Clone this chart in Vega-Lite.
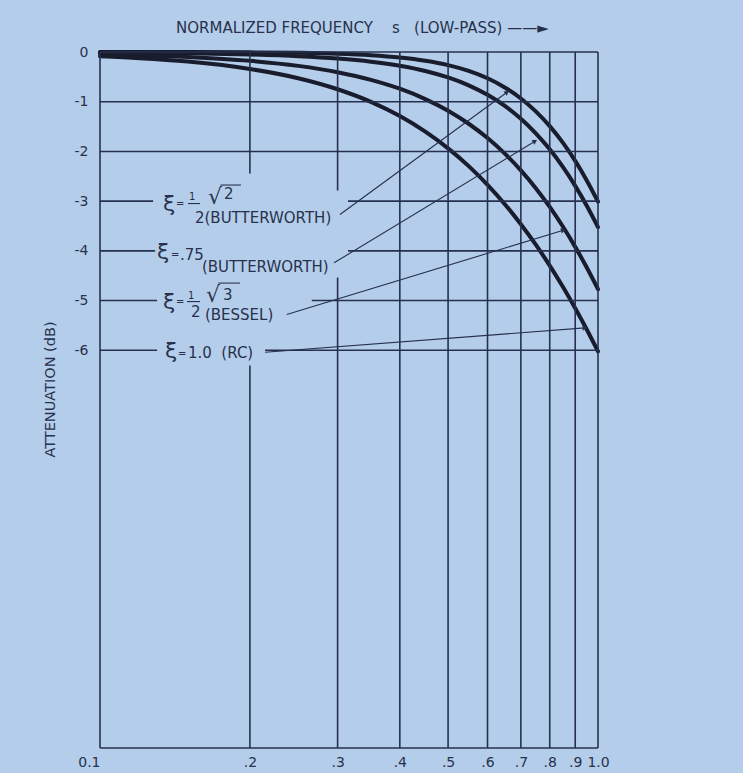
{
  "$schema": "https://vega.github.io/schema/vega-lite/v6.json",
  "width": 498,
  "height": 696,
  "autosize": "none",
  "padding": {"left": 100, "top": 52, "right": 145, "bottom": 25},
  "background": "#b4cdea",
  "config": {
    "view": {"stroke": null},
    "font": "DejaVu Sans",
    "text": {"font": "DejaVu Sans", "color": "#28314c"}
  },
  "title": {
    "text": "NORMALIZED FREQUENCY\u00a0\u00a0\u00a0\u00a0s\u00a0\u00a0\u00a0(LOW-PASS)\u00a0——►",
    "anchor": "start",
    "frame": "group",
    "dx": 76,
    "dy": 24,
    "offset": 20,
    "baseline": "alphabetic",
    "fontSize": 15,
    "fontWeight": "normal",
    "color": "#28314c",
    "font": "DejaVu Sans"
  },
  "datasets": {
    "curve": [
      {"c": "B", "s": 0.1, "dB": 0.0}, {"c": "B", "s": 0.12, "dB": -0.001}, {"c": "B", "s": 0.15, "dB": -0.002}, {"c": "B", "s": 0.2, "dB": -0.007}, {"c": "B", "s": 0.25, "dB": -0.017}, {"c": "B", "s": 0.3, "dB": -0.035}, {"c": "B", "s": 0.35, "dB": -0.065}, {"c": "B", "s": 0.4, "dB": -0.11}, {"c": "B", "s": 0.45, "dB": -0.175}, {"c": "B", "s": 0.5, "dB": -0.263}, {"c": "B", "s": 0.55, "dB": -0.38}, {"c": "B", "s": 0.6, "dB": -0.529}, {"c": "B", "s": 0.65, "dB": -0.713}, {"c": "B", "s": 0.7, "dB": -0.935}, {"c": "B", "s": 0.75, "dB": -1.194}, {"c": "B", "s": 0.8, "dB": -1.491}, {"c": "B", "s": 0.85, "dB": -1.824}, {"c": "B", "s": 0.9, "dB": -2.191}, {"c": "B", "s": 0.95, "dB": -2.588}, {"c": "B", "s": 1.0, "dB": -3.01},
      {"c": "B75", "s": 0.1, "dB": -0.011}, {"c": "B75", "s": 0.12, "dB": -0.017}, {"c": "B75", "s": 0.15, "dB": -0.027}, {"c": "B75", "s": 0.2, "dB": -0.05}, {"c": "B75", "s": 0.25, "dB": -0.084}, {"c": "B75", "s": 0.3, "dB": -0.131}, {"c": "B75", "s": 0.35, "dB": -0.194}, {"c": "B75", "s": 0.4, "dB": -0.276}, {"c": "B75", "s": 0.45, "dB": -0.381}, {"c": "B75", "s": 0.5, "dB": -0.512}, {"c": "B75", "s": 0.55, "dB": -0.671}, {"c": "B75", "s": 0.6, "dB": -0.862}, {"c": "B75", "s": 0.65, "dB": -1.086}, {"c": "B75", "s": 0.7, "dB": -1.344}, {"c": "B75", "s": 0.75, "dB": -1.635}, {"c": "B75", "s": 0.8, "dB": -1.958}, {"c": "B75", "s": 0.85, "dB": -2.311}, {"c": "B75", "s": 0.9, "dB": -2.692}, {"c": "B75", "s": 0.95, "dB": -3.097}, {"c": "B75", "s": 1.0, "dB": -3.522},
      {"c": "Bes", "s": 0.1, "dB": -0.044}, {"c": "Bes", "s": 0.12, "dB": -0.063}, {"c": "Bes", "s": 0.15, "dB": -0.099}, {"c": "Bes", "s": 0.2, "dB": -0.177}, {"c": "Bes", "s": 0.25, "dB": -0.279}, {"c": "Bes", "s": 0.3, "dB": -0.406}, {"c": "Bes", "s": 0.35, "dB": -0.56}, {"c": "Bes", "s": 0.4, "dB": -0.739}, {"c": "Bes", "s": 0.45, "dB": -0.947}, {"c": "Bes", "s": 0.5, "dB": -1.181}, {"c": "Bes", "s": 0.55, "dB": -1.443}, {"c": "Bes", "s": 0.6, "dB": -1.731}, {"c": "Bes", "s": 0.65, "dB": -2.044}, {"c": "Bes", "s": 0.7, "dB": -2.381}, {"c": "Bes", "s": 0.75, "dB": -2.739}, {"c": "Bes", "s": 0.8, "dB": -3.117}, {"c": "Bes", "s": 0.85, "dB": -3.511}, {"c": "Bes", "s": 0.9, "dB": -3.92}, {"c": "Bes", "s": 0.95, "dB": -4.341}, {"c": "Bes", "s": 1.0, "dB": -4.771},
      {"c": "RC", "s": 0.1, "dB": -0.086}, {"c": "RC", "s": 0.12, "dB": -0.124}, {"c": "RC", "s": 0.15, "dB": -0.193}, {"c": "RC", "s": 0.2, "dB": -0.341}, {"c": "RC", "s": 0.25, "dB": -0.527}, {"c": "RC", "s": 0.3, "dB": -0.749}, {"c": "RC", "s": 0.35, "dB": -1.004}, {"c": "RC", "s": 0.4, "dB": -1.289}, {"c": "RC", "s": 0.45, "dB": -1.602}, {"c": "RC", "s": 0.5, "dB": -1.938}, {"c": "RC", "s": 0.55, "dB": -2.296}, {"c": "RC", "s": 0.6, "dB": -2.671}, {"c": "RC", "s": 0.65, "dB": -3.061}, {"c": "RC", "s": 0.7, "dB": -3.464}, {"c": "RC", "s": 0.75, "dB": -3.876}, {"c": "RC", "s": 0.8, "dB": -4.297}, {"c": "RC", "s": 0.85, "dB": -4.723}, {"c": "RC", "s": 0.9, "dB": -5.154}, {"c": "RC", "s": 0.95, "dB": -5.586}, {"c": "RC", "s": 1.0, "dB": -6.021}
    ],
    "vgrid": [
      {"s": 0.1, "dB": 0, "dB2": -14},
      {"s": 0.2, "dB": 0, "dB2": -2.445}, {"s": 0.2, "dB": -6.308, "dB2": -14},
      {"s": 0.3, "dB": 0, "dB2": -2.787}, {"s": 0.3, "dB": -4.537, "dB2": -14},
      {"s": 0.4, "dB": 0, "dB2": -14}, {"s": 0.5, "dB": 0, "dB2": -14}, {"s": 0.6, "dB": 0, "dB2": -14},
      {"s": 0.7, "dB": 0, "dB2": -14}, {"s": 0.8, "dB": 0, "dB2": -14}, {"s": 0.9, "dB": 0, "dB2": -14},
      {"s": 1.0, "dB": 0, "dB2": -14}
    ],
    "hgrid": [
      {"dB": 0, "s": 0.1, "s2": 1}, {"dB": -1, "s": 0.1, "s2": 1}, {"dB": -2, "s": 0.1, "s2": 1},
      {"dB": -3, "s": 0.1, "s2": 0.1278}, {"dB": -3, "s": 0.3148, "s2": 1},
      {"dB": -4, "s": 0.1, "s2": 0.129}, {"dB": -4, "s": 0.3148, "s2": 1},
      {"dB": -5, "s": 0.1, "s2": 0.1302}, {"dB": -5, "s": 0.2662, "s2": 1},
      {"dB": -6, "s": 0.1, "s2": 0.1302}, {"dB": -6, "s": 0.2145, "s2": 1},
      {"dB": -14, "s": 0.1, "s2": 1}
    ],
    "lead": [
      {"id": "a1", "s": 0.3033, "dB": -3.27, "s2": 0.6566, "dB2": -0.809},
      {"id": "a2", "s": 0.2951, "dB": -4.241, "s2": 0.7474, "dB2": -1.795},
      {"id": "a3", "s": 0.2371, "dB": -5.282, "s2": 0.8518, "dB2": -3.585},
      {"id": "a4", "s": 0.2145, "dB": -6.04, "s2": 0.9417, "dB2": -5.549}
    ],
    "bars": [
      {"s": 0.15019, "s2": 0.15877, "dB": -3.048},
      {"s": 0.1495, "s2": 0.15877, "dB": -5.02},
      {"s": 0.17457, "s2": 0.19187, "dB": -2.676},
      {"s": 0.17296, "s2": 0.19104, "dB": -4.648}
    ],
    "xi": [
      {"t": "ξ", "s": 0.1338, "dB": -3.189},
      {"t": "ξ", "s": 0.13015, "dB": -4.155},
      {"t": "ξ", "s": 0.1338, "dB": -5.165},
      {"t": "ξ", "s": 0.13504, "dB": -6.147},
      {"t": "√", "s": 0.16474, "dB": -3.048},
      {"t": "√", "s": 0.16322, "dB": -5.02}
    ],
    "tiny": [
      {"t": "=", "s": 0.14208, "dB": -3.109},
      {"t": "1", "s": 0.15088, "dB": -2.968},
      {"t": "=", "s": 0.13884, "dB": -4.135},
      {"t": "=", "s": 0.14208, "dB": -5.085},
      {"t": "1", "s": 0.15019, "dB": -4.965},
      {"t": "=", "s": 0.1434, "dB": -6.127}
    ],
    "body": [
      {"t": "2", "s": 0.17742, "dB": -2.948},
      {"t": "2(BUTTERWORTH)", "s": 0.15512, "dB": -3.431},
      {"t": ".75", "s": 0.14473, "dB": -4.175},
      {"t": "(BUTTERWORTH)", "s": 0.16023, "dB": -4.416},
      {"t": "3", "s": 0.1766, "dB": -4.984},
      {"t": "2", "s": 0.15228, "dB": -5.326},
      {"t": "(BESSEL)", "s": 0.16246, "dB": -5.382},
      {"t": "1.0\u00a0\u00a0(RC)", "s": 0.15019, "dB": -6.147}
    ]
  },
  "layer": [
    {
      "data": {"name": "curve"},
      "mark": {"type": "line", "strokeWidth": 4, "color": "#181c2c", "interpolate": "monotone", "strokeCap": "round"},
      "encoding": {
        "x": {
          "field": "s", "type": "quantitative",
          "scale": {"type": "log", "domain": [0.1, 1], "nice": false},
          "axis": {
            "title": null, "domain": false, "ticks": false, "grid": false,
            "values": [0.1, 0.2, 0.3, 0.4, 0.5, 0.6, 0.7, 0.8, 0.9, 1],
            "labelExpr": "datum.value >= 0.99 ? '1.0' : datum.value < 0.15 ? '0.1' : '.' + format(datum.value * 10, '.0f')",
            "labelAlign": {"condition": {"test": "datum.value < 0.15", "value": "right"}, "value": "center"},
            "labelFontSize": 14, "labelColor": "#28314c", "labelPadding": 7, "labelFont": "DejaVu Sans",
            "labelOverlap": false, "labelFlush": false
          }
        },
        "y": {
          "field": "dB", "type": "quantitative",
          "scale": {"domain": [-14, 0], "nice": false, "zero": false},
          "axis": {
            "title": "ATTENUATION (dB)", "domain": false, "ticks": false, "grid": false,
            "values": [0, -1, -2, -3, -4, -5, -6],
            "labelExpr": "datum.value == 0 ? '0' : '-' + format(-datum.value, 'd')",
            "labelFontSize": 14, "labelColor": "#28314c", "labelPadding": 12, "labelFont": "DejaVu Sans",
            "titleFontSize": 14.5, "titleFontWeight": "normal", "titleColor": "#28314c", "titleFont": "DejaVu Sans",
            "titlePadding": 17, "titleY": 337
          }
        },
        "detail": {"field": "c", "type": "nominal"}
      }
    },
    {
      "data": {"name": "vgrid"},
      "mark": {"type": "rule", "strokeWidth": 1.6, "color": "#26304e"},
      "encoding": {
        "x": {"field": "s", "type": "quantitative"},
        "y": {"field": "dB", "type": "quantitative"},
        "y2": {"field": "dB2"}
      }
    },
    {
      "data": {"name": "hgrid"},
      "mark": {"type": "rule", "strokeWidth": 1.6, "color": "#26304e"},
      "encoding": {
        "x": {"field": "s", "type": "quantitative"},
        "x2": {"field": "s2"},
        "y": {"field": "dB", "type": "quantitative"}
      }
    },
    {
      "data": {"name": "lead"},
      "mark": {"type": "rule", "strokeWidth": 1.1, "color": "#26304e"},
      "encoding": {
        "x": {"field": "s", "type": "quantitative"},
        "x2": {"field": "s2"},
        "y": {"field": "dB", "type": "quantitative"},
        "y2": {"field": "dB2"}
      }
    },
    {
      "data": {"name": "lead"},
      "transform": [{"filter": "datum.id == 'a1'"}],
      "mark": {"type": "point", "shape": "triangle-right", "filled": true, "size": 30, "angle": 324, "color": "#26304e", "opacity": 1},
      "encoding": {
        "x": {"field": "s2", "type": "quantitative"},
        "y": {"field": "dB2", "type": "quantitative"}
      }
    },
    {
      "data": {"name": "lead"},
      "transform": [{"filter": "datum.id == 'a2'"}],
      "mark": {"type": "point", "shape": "triangle-right", "filled": true, "size": 30, "angle": 329, "color": "#26304e", "opacity": 1},
      "encoding": {
        "x": {"field": "s2", "type": "quantitative"},
        "y": {"field": "dB2", "type": "quantitative"}
      }
    },
    {
      "data": {"name": "lead"},
      "transform": [{"filter": "datum.id == 'a3'"}],
      "mark": {"type": "point", "shape": "triangle-right", "filled": true, "size": 30, "angle": 343, "color": "#26304e", "opacity": 1},
      "encoding": {
        "x": {"field": "s2", "type": "quantitative"},
        "y": {"field": "dB2", "type": "quantitative"}
      }
    },
    {
      "data": {"name": "lead"},
      "transform": [{"filter": "datum.id == 'a4'"}],
      "mark": {"type": "point", "shape": "triangle-right", "filled": true, "size": 30, "angle": 356, "color": "#26304e", "opacity": 1},
      "encoding": {
        "x": {"field": "s2", "type": "quantitative"},
        "y": {"field": "dB2", "type": "quantitative"}
      }
    },
    {
      "data": {"name": "bars"},
      "mark": {"type": "rule", "strokeWidth": 1.1, "color": "#28314c"},
      "encoding": {
        "x": {"field": "s", "type": "quantitative"},
        "x2": {"field": "s2"},
        "y": {"field": "dB", "type": "quantitative"}
      }
    },
    {
      "data": {"name": "xi"},
      "mark": {"type": "text", "fontSize": 22, "align": "left", "baseline": "alphabetic", "color": "#28314c"},
      "encoding": {
        "x": {"field": "s", "type": "quantitative"},
        "y": {"field": "dB", "type": "quantitative"},
        "text": {"field": "t"}
      }
    },
    {
      "data": {"name": "tiny"},
      "mark": {"type": "text", "fontSize": 10, "align": "left", "baseline": "alphabetic", "color": "#28314c"},
      "encoding": {
        "x": {"field": "s", "type": "quantitative"},
        "y": {"field": "dB", "type": "quantitative"},
        "text": {"field": "t"}
      }
    },
    {
      "data": {"name": "body"},
      "mark": {"type": "text", "fontSize": 15, "align": "left", "baseline": "alphabetic", "color": "#28314c"},
      "encoding": {
        "x": {"field": "s", "type": "quantitative"},
        "y": {"field": "dB", "type": "quantitative"},
        "text": {"field": "t"}
      }
    }
  ]
}
